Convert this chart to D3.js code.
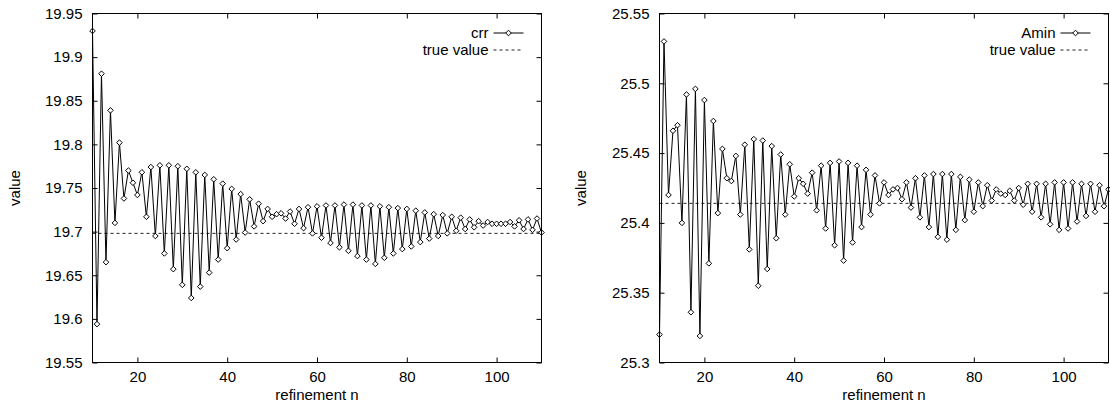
<!DOCTYPE html>
<html>
<head>
<meta charset="utf-8">
<script src="https://cdn.jsdelivr.net/npm/d3@7/dist/d3.min.js"></script>
<style>
  html, body { margin: 0; padding: 0; background: #fff; }
  svg { display: block; }
  text { font-family: "Liberation Sans", Arial, Helvetica, sans-serif; fill: #000; }
</style>
</head>
<body>
<svg id="chart" width="1110" height="404"></svg>
<script>
// ---------- data ----------
const refinementN = [10,11,12,13,14,15,16,17,18,19,20,21,22,23,24,25,26,27,28,29,30,31,32,33,34,35,36,37,38,39,40,41,42,43,44,45,46,47,48,49,50,51,52,53,54,55,56,57,58,59,60,61,62,63,64,65,66,67,68,69,70,71,72,73,74,75,76,77,78,79,80,81,82,83,84,85,86,87,88,89,90,91,92,93,94,95,96,97,98,99,100,101,102,103,104,105,106,107,108,109,110];

const crrValues = [
  19.930,19.594,19.881,19.665,19.839,19.710,19.802,19.738,19.770,19.756,
  19.742,19.768,19.717,19.774,19.695,19.776,19.675,19.776,19.657,19.775,
  19.639,19.772,19.624,19.768,19.637,19.765,19.653,19.760,19.668,19.755,
  19.681,19.749,19.691,19.743,19.699,19.737,19.706,19.732,19.712,19.726,
  19.717,19.720,19.721,19.715,19.723,19.709,19.726,19.704,19.728,19.698,
  19.729,19.693,19.730,19.687,19.730,19.682,19.731,19.678,19.731,19.672,
  19.730,19.668,19.730,19.663,19.729,19.670,19.728,19.675,19.727,19.680,
  19.726,19.683,19.724,19.688,19.722,19.692,19.720,19.695,19.719,19.698,
  19.717,19.701,19.716,19.703,19.714,19.705,19.712,19.707,19.711,19.709,
  19.709,19.709,19.709,19.711,19.706,19.713,19.703,19.714,19.702,19.715,
  19.699
];
const crrTrue = 19.698;

const aminValues = [
  25.320,25.530,25.420,25.466,25.470,25.400,25.492,25.336,25.496,25.319,
  25.488,25.371,25.473,25.407,25.453,25.432,25.430,25.448,25.406,25.456,
  25.381,25.460,25.355,25.459,25.367,25.455,25.389,25.449,25.406,25.442,
  25.419,25.432,25.428,25.421,25.436,25.409,25.441,25.396,25.443,25.384,
  25.444,25.373,25.443,25.386,25.441,25.397,25.438,25.406,25.434,25.414,
  25.429,25.420,25.424,25.425,25.417,25.429,25.411,25.432,25.404,25.434,
  25.397,25.435,25.390,25.435,25.388,25.435,25.395,25.433,25.402,25.431,
  25.408,25.429,25.412,25.427,25.416,25.424,25.421,25.420,25.423,25.416,
  25.425,25.413,25.428,25.408,25.428,25.404,25.428,25.399,25.429,25.395,
  25.429,25.396,25.429,25.401,25.428,25.405,25.428,25.408,25.427,25.412,
  25.424
];
const aminTrue = 25.414;

const xTicks = [20, 40, 60, 80, 100];
const crrYTicks = [19.55, 19.6, 19.65, 19.7, 19.75, 19.8, 19.85, 19.9, 19.95];
const crrYTickLabels = ["19.55","19.6","19.65","19.7","19.75","19.8","19.85","19.9","19.95"];
const aminYTicks = [25.3, 25.35, 25.4, 25.45, 25.5, 25.55];
const aminYTickLabels = ["25.3","25.35","25.4","25.45","25.5","25.55"];

// ---------- layout ----------
const svg = d3.select("#chart");
const FONT = 15;
const plotTop = 13.5, plotBottom = 362.5;

const panels = [
  { left: 92.5, right: 541.5, values: crrValues, trueVal: crrTrue, yDomain: [19.55, 19.95],
    yTicks: crrYTicks, yLabels: crrYTickLabels, name: "crr", yTitleX: 15 },
  { left: 659.5, right: 1108.5, values: aminValues, trueVal: aminTrue, yDomain: [25.3, 25.55],
    yTicks: aminYTicks, yLabels: aminYTickLabels, name: "Amin", yTitleX: 581 }
];

function diamond(x, y, r) {
  return `M${x},${y - r}L${x + r},${y}L${x},${y + r}L${x - r},${y}Z`;
}

panels.forEach(p => {
  const x = d3.scaleLinear().domain([10, 110]).range([p.left, p.right]);
  const y = d3.scaleLinear().domain(p.yDomain).range([plotBottom, plotTop]);
  const g = svg.append("g");

  const fmtY = d => p.yLabels[p.yTicks.indexOf(d)];
  const ax = [
    g.append("g").attr("transform", `translate(0,${plotBottom})`)
      .call(d3.axisBottom(x).tickValues(xTicks).tickSize(-5).tickPadding(9).tickFormat(d3.format("d"))),
    g.append("g").attr("transform", `translate(0,${plotTop})`)
      .call(d3.axisTop(x).tickValues(xTicks).tickSize(-5).tickFormat("")),
    g.append("g").attr("transform", `translate(${p.left},0)`)
      .call(d3.axisLeft(y).tickValues(p.yTicks).tickSize(-5).tickPadding(10).tickFormat(fmtY)),
    g.append("g").attr("transform", `translate(${p.right},0)`)
      .call(d3.axisRight(y).tickValues(p.yTicks).tickSize(-5).tickFormat(""))
  ];
  ax.forEach(a => {
    a.select(".domain").remove();
    a.selectAll("line").attr("stroke", "#000").attr("stroke-width", 1);
    a.selectAll("text").attr("font-size", FONT).attr("font-family", "Liberation Sans, Arial, sans-serif").attr("fill", "#000");
  });

  g.append("line")
    .attr("x1", x(10)).attr("x2", x(110))
    .attr("y1", y(p.trueVal)).attr("y2", y(p.trueVal))
    .attr("stroke", "#222").attr("stroke-width", 1).attr("stroke-dasharray", "3,3");

  const data = refinementN.map((n, i) => ({ n, v: p.values[i] }));
  g.append("path").datum(data)
    .attr("fill", "none").attr("stroke", "#000").attr("stroke-width", 1)
    .attr("d", d3.line().x(d => x(d.n)).y(d => y(d.v)));

  g.append("g").selectAll("path").data(data).join("path")
    .attr("d", d => diamond(x(d.n), y(d.v), 2.8))
    .attr("fill", "#fff").attr("stroke", "#000").attr("stroke-width", 1);

  g.append("rect")
    .attr("x", p.left).attr("y", plotTop)
    .attr("width", p.right - p.left).attr("height", plotBottom - plotTop)
    .attr("fill", "none").attr("stroke", "#000").attr("stroke-width", 1);

  g.append("text")
    .attr("x", (p.left + p.right) / 2).attr("y", 399.5)
    .attr("text-anchor", "middle").attr("font-size", FONT)
    .text("refinement n");
  g.append("text")
    .attr("transform", `translate(${p.yTitleX},${(plotTop + plotBottom) / 2}) rotate(-90)`)
    .attr("text-anchor", "middle").attr("dy", "0.35em").attr("font-size", FONT)
    .text("value");

  const lx1 = p.right - 48, lx2 = p.right - 18, tx = p.right - 53;
  const r1 = 33, r2 = 50;
  g.append("text").attr("x", tx).attr("y", r1).attr("dy", "0.35em")
    .attr("text-anchor", "end").attr("font-size", FONT).text(p.name);
  g.append("line").attr("x1", lx1).attr("x2", lx2).attr("y1", r1).attr("y2", r1)
    .attr("stroke", "#000").attr("stroke-width", 1);
  g.append("path").attr("d", diamond((lx1 + lx2) / 2, r1, 2.8))
    .attr("fill", "#fff").attr("stroke", "#000").attr("stroke-width", 1);
  g.append("text").attr("x", tx).attr("y", r2).attr("dy", "0.35em")
    .attr("text-anchor", "end").attr("font-size", FONT).text("true value");
  g.append("line").attr("x1", lx1).attr("x2", lx2).attr("y1", r2).attr("y2", r2)
    .attr("stroke", "#222").attr("stroke-width", 1).attr("stroke-dasharray", "3,3");
});
</script>
</body>
</html>
